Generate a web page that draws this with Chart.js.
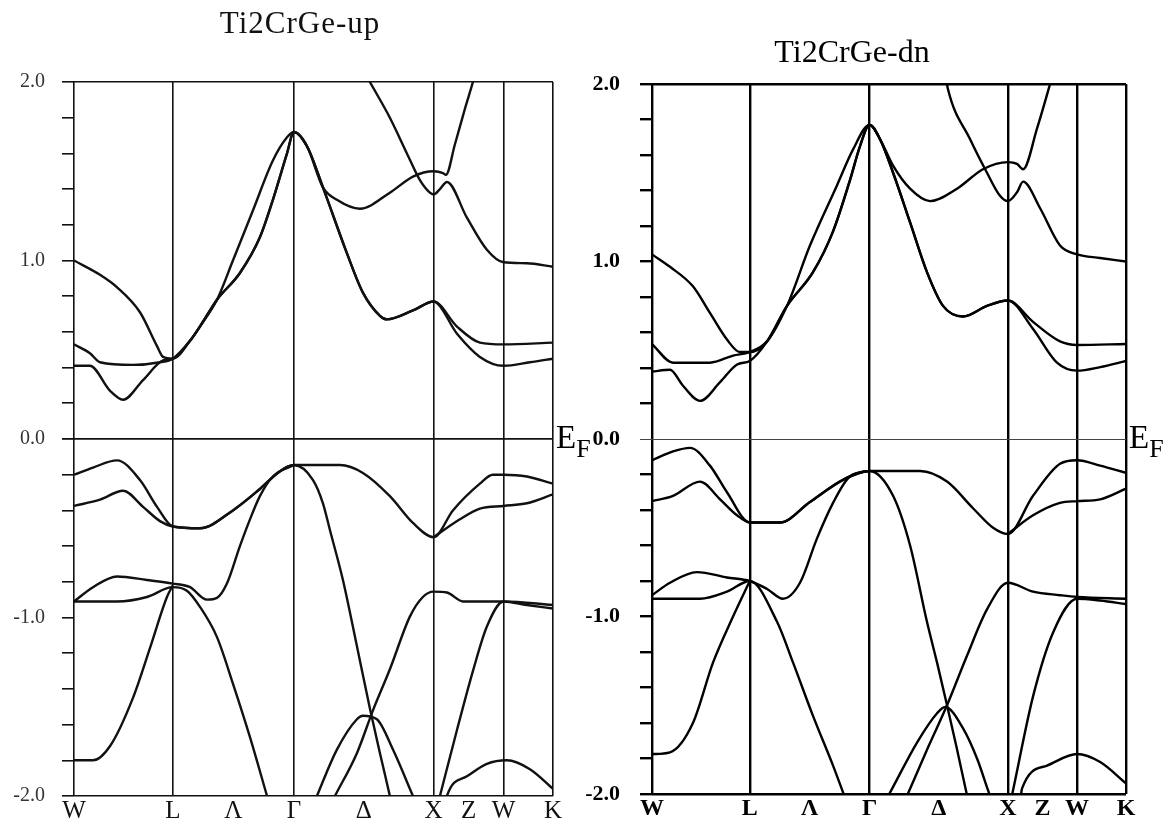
<!DOCTYPE html>
<html>
<head>
<meta charset="utf-8">
<script src="https://cdn.jsdelivr.net/npm/chart.js@4.4.1/dist/chart.umd.min.js"></script>
<style>
body{margin:0;background:#fff;width:1176px;height:828px;position:relative;overflow:hidden;font-family:"Liberation Serif",serif}
canvas{position:absolute;top:0}
#up{left:0}
#dn{left:580px}
.title{position:absolute;width:300px;text-align:center;line-height:1;white-space:nowrap}
.ef{position:absolute;font-size:33px;line-height:33px;color:#000}
.ef span{font-size:26px;position:relative;top:9px}
</style>
</head>
<body>
<canvas id="up" width="580" height="828"></canvas>
<canvas id="dn" width="596" height="828"></canvas>
<div class="title" style="left:150px;top:7px;font-size:31px;letter-spacing:1px;color:#111">Ti2CrGe-up</div>
<div class="title" style="left:702px;top:35px;font-size:32px;color:#000">Ti2CrGe-dn</div>
<div class="ef" style="left:556px;top:421px">E<span>F</span></div>
<div class="ef" style="left:1129px;top:421px">E<span>F</span></div>
<script>
"use strict";

// k-path: W L Λ Γ Δ X Z W K
const kPos = [0, 0.707, 1.140, 1.573, 2.073, 2.573, 2.823, 3.073, 3.427];
const kLabels = ["W", "L", "Λ", "Γ", "Δ", "X", "Z", "W", "K"];
const kLines = [0, 0.707, 1.573, 2.573, 3.073, 3.427];
const eTicks = [-2.0, -1.8, -1.6, -1.4, -1.2, -1.0, -0.8, -0.6, -0.4, -0.2, 0.0,
  0.2, 0.4, 0.6, 0.8, 1.0, 1.2, 1.4, 1.6, 1.8, 2.0];

// spin up bands [k, E]
const upA = [[0,1.0],[0.186,0.92],[0.308,0.85],[0.472,0.71],[0.594,0.52],[0.637,0.46],[0.707,0.45],[0.830,0.55],[0.901,0.63],[1.023,0.78],[1.137,1.0],[1.280,1.28],[1.423,1.56],[1.524,1.69],[1.573,1.72],[1.667,1.64],[1.781,1.41],[1.881,1.34],[2.046,1.29],[2.260,1.38],[2.425,1.47],[2.573,1.50],[2.640,1.49],[2.661,1.48],[2.725,1.65],[2.797,1.85],[2.854,2.0],[2.904,2.15]];
const upB = [[0,0.53],[0.114,0.48],[0.186,0.43],[0.422,0.415],[0.615,0.43],[0.707,0.45],[0.830,0.55],[0.901,0.63],[1.023,0.78],[1.187,0.93],[1.330,1.13],[1.423,1.34],[1.524,1.6],[1.573,1.72],[1.667,1.64],[1.781,1.41],[1.953,1.04],[2.067,0.82],[2.189,0.69],[2.239,0.67],[2.425,0.72],[2.573,0.77],[2.740,0.63],[2.904,0.54],[3.073,0.53],[3.427,0.54]];
const upC = [[0,0.41],[0.114,0.41],[0.258,0.27],[0.351,0.22],[0.494,0.33],[0.637,0.44],[0.707,0.45],[0.830,0.55],[0.901,0.63],[1.023,0.78],[1.187,0.93],[1.330,1.13],[1.423,1.34],[1.524,1.6],[1.573,1.72],[1.667,1.64],[1.781,1.41],[1.953,1.04],[2.067,0.82],[2.189,0.69],[2.239,0.67],[2.425,0.72],[2.573,0.77],[2.740,0.59],[2.904,0.46],[3.073,0.41],[3.262,0.43],[3.427,0.45]];
const upE = [[2.067,2.07],[2.117,2.0],[2.260,1.80],[2.382,1.60],[2.475,1.45],[2.546,1.38],[2.573,1.37],[2.618,1.40],[2.668,1.44],[2.811,1.24],[2.954,1.06],[3.073,0.99],[3.240,0.985],[3.427,0.965]];
const upV1 = [[0,-0.20],[0.136,-0.16],[0.308,-0.12],[0.472,-0.23],[0.594,-0.38],[0.707,-0.49],[0.901,-0.50],[1.137,-0.40],[1.330,-0.28],[1.474,-0.18],[1.573,-0.146],[1.903,-0.146],[2.067,-0.19],[2.260,-0.32],[2.425,-0.47],[2.573,-0.55],[2.711,-0.40],[2.904,-0.25],[2.997,-0.20],[3.073,-0.20],[3.240,-0.21],[3.427,-0.25]];
const upV2 = [[0,-0.375],[0.186,-0.34],[0.351,-0.29],[0.494,-0.38],[0.615,-0.46],[0.707,-0.49],[0.901,-0.50],[1.137,-0.40],[1.330,-0.28],[1.474,-0.18],[1.573,-0.146],[1.710,-0.23],[1.781,-0.36],[1.831,-0.51],[1.924,-0.79],[2.024,-1.16],[2.117,-1.51],[2.189,-1.76],[2.260,-2.0],[2.304,-2.15]];
const upV3 = [[0,-0.91],[0.136,-0.83],[0.308,-0.77],[0.522,-0.79],[0.707,-0.81],[0.830,-0.83],[0.951,-0.90],[1.023,-0.89],[1.094,-0.81],[1.187,-0.60],[1.259,-0.45],[1.330,-0.32],[1.423,-0.21],[1.573,-0.146]];
const upV4 = [[0,-0.91],[0.308,-0.91],[0.522,-0.885],[0.707,-0.83],[0.808,-0.85],[0.901,-0.94],[1.023,-1.11],[1.137,-1.37],[1.259,-1.67],[1.381,-2.0],[1.418,-2.1]];
const upV5 = [[0,-1.80],[0.136,-1.80],[0.258,-1.72],[0.422,-1.45],[0.544,-1.17],[0.665,-0.885],[0.707,-0.82]];
const upV6 = [[1.802,-2.1],[1.867,-2.0],[2.024,-1.76],[2.139,-1.52],[2.260,-1.29],[2.403,-0.995],[2.496,-0.885],[2.573,-0.855],[2.668,-0.86],[2.783,-0.91],[3.073,-0.91],[3.427,-0.93]];
const upV7 = [[1.660,-2.15],[1.738,-2.0],[1.881,-1.74],[2.024,-1.57],[2.067,-1.55],[2.167,-1.57],[2.282,-1.74],[2.425,-2.0],[2.480,-2.1]];
const upV8 = [[2.573,-0.55],[2.761,-0.45],[2.904,-0.39],[3.073,-0.375],[3.240,-0.36],[3.427,-0.31]];
const upV9 = [[2.585,-2.1],[2.618,-2.0],[2.740,-1.63],[2.854,-1.30],[2.954,-1.05],[3.073,-0.91],[3.240,-0.93],[3.427,-0.95]];
const upV10 = [[2.647,-2.1],[2.668,-2.0],[2.811,-1.89],[2.954,-1.82],[3.097,-1.80],[3.262,-1.85],[3.427,-1.96]];

// spin down bands [k, E]
const dnA = [[0,1.04],[0.130,0.97],[0.296,0.86],[0.419,0.71],[0.542,0.56],[0.636,0.49],[0.707,0.49],[0.832,0.55],[0.976,0.75],[1.142,1.09],[1.338,1.43],[1.453,1.63],[1.573,1.77],[1.648,1.69],[1.743,1.54],[1.866,1.41],[2.010,1.34],[2.205,1.41],[2.393,1.52],[2.573,1.56],[2.639,1.55],[2.683,1.52],[2.784,1.75],[2.878,2.0],[2.914,2.1]];
const dnB = [[0,0.535],[0.152,0.43],[0.419,0.43],[0.586,0.47],[0.707,0.49],[0.832,0.55],[0.976,0.75],[1.164,0.94],[1.309,1.17],[1.432,1.46],[1.504,1.65],[1.573,1.77],[1.648,1.69],[1.743,1.50],[1.866,1.22],[1.988,0.94],[2.104,0.75],[2.249,0.69],[2.422,0.75],[2.573,0.78],[2.755,0.66],[2.950,0.55],[3.073,0.53],[3.427,0.535]];
const dnC = [[0,0.38],[0.130,0.39],[0.224,0.30],[0.347,0.215],[0.492,0.32],[0.615,0.42],[0.707,0.44],[0.832,0.55],[0.976,0.75],[1.164,0.94],[1.309,1.17],[1.432,1.46],[1.504,1.65],[1.573,1.77],[1.648,1.69],[1.743,1.50],[1.866,1.22],[1.988,0.94],[2.104,0.75],[2.249,0.69],[2.422,0.75],[2.573,0.78],[2.755,0.62],[2.928,0.43],[3.073,0.385],[3.240,0.405],[3.427,0.44]];
const dnE = [[2.111,2.1],[2.140,1.97],[2.299,1.69],[2.422,1.50],[2.516,1.37],[2.573,1.34],[2.639,1.39],[2.683,1.45],[2.806,1.30],[2.950,1.09],[3.073,1.04],[3.240,1.02],[3.427,1.00]];
const dnV1 = [[0,-0.12],[0.152,-0.07],[0.275,-0.05],[0.419,-0.15],[0.542,-0.30],[0.707,-0.47],[0.926,-0.47],[1.142,-0.355],[1.381,-0.23],[1.573,-0.18],[1.938,-0.18],[2.133,-0.24],[2.321,-0.39],[2.466,-0.50],[2.573,-0.535],[2.755,-0.32],[2.950,-0.14],[3.073,-0.12],[3.240,-0.15],[3.427,-0.19]];
const dnV2 = [[0,-0.35],[0.152,-0.32],[0.347,-0.24],[0.492,-0.34],[0.615,-0.43],[0.707,-0.47],[0.926,-0.47],[1.142,-0.355],[1.381,-0.23],[1.573,-0.18],[1.743,-0.32],[1.866,-0.60],[1.988,-1.03],[2.061,-1.26],[2.133,-1.50],[2.200,-1.73],[2.270,-1.98],[2.304,-2.1]];
const dnV3 = [[0,-0.88],[0.130,-0.81],[0.325,-0.75],[0.542,-0.78],[0.707,-0.80],[0.832,-0.845],[0.947,-0.90],[1.070,-0.81],[1.193,-0.56],[1.309,-0.36],[1.432,-0.21],[1.573,-0.18]];
const dnV4 = [[0,-0.90],[0.347,-0.90],[0.542,-0.86],[0.707,-0.80],[0.904,-1.03],[1.020,-1.26],[1.164,-1.56],[1.309,-1.84],[1.381,-1.99],[1.434,-2.1]];
const dnV5 = [[0,-1.775],[0.130,-1.765],[0.296,-1.60],[0.441,-1.26],[0.586,-1.0],[0.707,-0.80]];
const dnV6 = [[1.793,-2.1],[1.866,-1.97],[2.000,-1.73],[2.133,-1.50],[2.278,-1.22],[2.422,-0.96],[2.573,-0.81],[2.755,-0.86],[2.950,-0.88],[3.073,-0.89],[3.427,-0.90]];
const dnV7 = [[1.646,-2.1],[1.743,-1.96],[1.916,-1.71],[2.061,-1.545],[2.119,-1.51],[2.249,-1.63],[2.350,-1.80],[2.430,-1.98],[2.483,-2.1]];
const dnV8 = [[2.573,-0.535],[2.755,-0.43],[2.950,-0.36],[3.073,-0.35],[3.240,-0.34],[3.427,-0.28]];
const dnV9 = [[2.577,-2.1],[2.610,-1.98],[2.755,-1.45],[2.900,-1.09],[3.073,-0.90],[3.240,-0.91],[3.427,-0.93]];
const dnV10 = [[2.655,-2.1],[2.675,-1.97],[2.856,-1.84],[3.073,-1.775],[3.240,-1.82],[3.427,-1.94]];

const upBands = [upA, upB, upC, upE, upV1, upV2, upV3, upV4, upV5, upV6, upV7, upV8, upV9, upV10];
const dnBands = [dnA, dnB, dnC, dnE, dnV1, dnV2, dnV3, dnV4, dnV5, dnV6, dnV7, dnV8, dnV9, dnV10];

const near = (a, b) => Math.abs(a - b) < 1e-6;

function makeChart(id, bands, o) {
  const ctx = document.getElementById(id).getContext("2d");
  return new Chart(ctx, {
    type: "line",
    data: {
      datasets: bands.map(b => ({
        data: b.map(p => ({ x: p[0], y: p[1] })),
        borderColor: o.lineColor,
        borderWidth: o.lineW,
        pointRadius: 0,
        fill: false,
        cubicInterpolationMode: "monotone"
      }))
    },
    options: {
      responsive: false,
      animation: false,
      events: [],
      layout: { padding: { top: o.top, right: o.right, bottom: 0, left: 0 } },
      plugins: { legend: { display: false }, tooltip: { enabled: false }, title: { display: false } },
      scales: {
        x: {
          type: "linear",
          min: 0,
          max: 3.427,
          afterBuildTicks: s => { s.ticks = kPos.map(v => ({ value: v })); },
          afterFit: s => { s.height = o.xh; },
          border: { display: false },
          grid: {
            drawTicks: false,
            color: c => kLines.some(v => c.tick && near(v, c.tick.value)) ? o.gridColor : "rgba(0,0,0,0)",
            lineWidth: o.gridW
          },
          ticks: {
            autoSkip: false,
            maxRotation: 0,
            padding: o.kPad,
            color: o.kColor,
            font: o.kFont,
            callback: (v, i) => kLabels[i]
          }
        },
        y: {
          type: "linear",
          min: -2,
          max: 2,
          afterBuildTicks: s => { s.ticks = eTicks.map(v => ({ value: v })); },
          afterFit: s => { s.width = o.yw; },
          border: { display: false },
          grid: {
            tickLength: 12,
            tickColor: c => (c.tick && near(c.tick.value, 0)) ? o.zeroColor : o.gridColor,
            tickWidth: c => (c.tick && near(c.tick.value, 0)) ? o.zeroW : o.gridW,
            color: c => {
              if (!c.tick) return "rgba(0,0,0,0)";
              const v = c.tick.value;
              if (near(v, 0)) return o.zeroColor;
              if (near(v, 2) || near(v, -2)) return o.gridColor;
              return "rgba(0,0,0,0)";
            },
            lineWidth: c => (c.tick && near(c.tick.value, 0)) ? o.zeroW : o.gridW
          },
          ticks: {
            padding: o.yPad,
            color: o.yColor,
            font: o.yFont,
            callback: v => near(v, Math.round(v)) ? Math.round(v).toFixed(1) : ""
          }
        }
      }
    }
  });
}

makeChart("up", upBands, {
  top: 82, right: 27, xh: 32, yw: 74,
  lineColor: "#111", lineW: 2.4,
  gridColor: "#111", gridW: 1.6,
  zeroColor: "#111", zeroW: 1.8,
  kPad: 0, kColor: "#111", kFont: { family: "Liberation Serif", size: 25 },
  yPad: 17, yColor: "#333", yFont: { family: "Liberation Serif", size: 20 }
});

makeChart("dn", dnBands, {
  top: 84, right: 50, xh: 34, yw: 72,
  lineColor: "#000", lineW: 2.4,
  gridColor: "#000", gridW: 2.4,
  zeroColor: "#444", zeroW: 1,
  kPad: 0, kColor: "#000", kFont: { family: "Liberation Serif", size: 24, weight: "bold" },
  yPad: 20, yColor: "#000", yFont: { family: "Liberation Serif", size: 22, weight: "bold" }
});
</script>
</body>
</html>
